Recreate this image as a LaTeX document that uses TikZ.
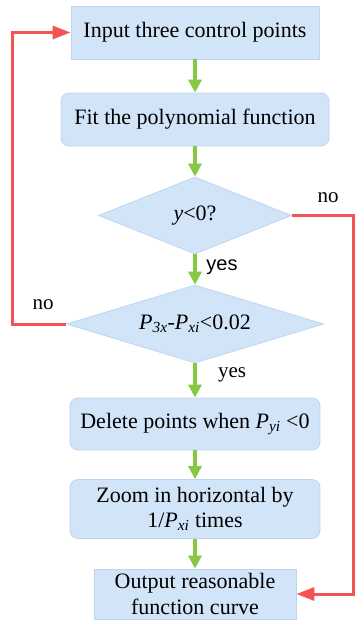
\documentclass[tikz,border=0pt]{standalone}
\usepackage{fontspec}
\setmainfont{Liberation Serif}
\newfontfamily\policesans{Liberation Sans}
\usetikzlibrary{shapes.geometric,arrows.meta}

\definecolor{boitebleue}{HTML}{D2E4F7}
\definecolor{bordbleu}{HTML}{BCD6F0}
\definecolor{vertfleche}{HTML}{86C843}
\definecolor{rougeboucle}{HTML}{F55353}

\tikzset{
  boite/.style={draw=bordbleu, fill=boitebleue, line width=0.8pt, inner sep=0pt,
    align=center, font=\fontsize{22}{25.5}\selectfont},
  boiteronde/.style={boite, rounded corners=8pt},
  losange/.style={boite, diamond, aspect=3.3},
  fleche/.style={vertfleche, line width=3.5pt, -{Triangle[length=13pt,width=13pt]}},
  retour/.style={rougeboucle, line width=3pt, -{Triangle[length=18pt,width=13pt]}},
  etiquette/.style={font=\fontsize{21}{24}\selectfont},
}

\begin{document}
\begin{tikzpicture}[x=1pt, y=-1pt]
  \useasboundingbox (0,0) rectangle (355,621);

  % Étapes
  \node[boite, minimum width=248, minimum height=53] (entree) at (195,32.5)
    {Input three control points};
  \node[boiteronde, minimum width=268, minimum height=53] (ajust) at (195,119.5)
    {Fit the polynomial function};
  \node[losange, minimum width=193, minimum height=77] (test1) at (195,215.5)
    {\textit{y}<0?};
  \node[losange, minimum width=257, minimum height=78] (test2) at (195,324)
    {\textit{P}\textsubscript{\textit{3x}}-\textit{P}\textsubscript{\textit{xi}}<0.02};
  \node[boiteronde, minimum width=250, minimum height=52] (suppr) at (195,424)
    {Delete points when \textit{P}\textsubscript{\textit{yi}} <0};
  \node[boiteronde, minimum width=250, minimum height=59] (zoom) at (195,509)
    {Zoom in horizontal by\\ 1/\textit{P}\textsubscript{\textit{xi}} times};
  \node[boite, minimum width=202, minimum height=50] (sortie) at (195,594)
    {Output reasonable\\ function curve};

  % Flèches vertes
  \draw[fleche] (entree) -- (ajust);
  \draw[fleche] (ajust) -- (test1);
  \draw[fleche] (test1) -- (test2);
  \draw[fleche] (test2) -- (suppr);
  \draw[fleche] (suppr) -- (zoom);
  \draw[fleche] (zoom) -- (sortie);

  % Retours
  \draw[retour] (test1.east) -- ++(62,0) |- (sortie.east);
  \draw[retour] (test2.west) -- ++(-54,0) |- (entree.west);

  % Étiquettes
  \node[etiquette] (non1) at (328,198) {no};
  \node[etiquette] (non2) at (43,305) {no};
  \node[etiquette, font=\policesans\fontsize{20}{23}\selectfont] (oui1) at (222,267) {yes};
  \node[etiquette] (oui2) at (232,375) {yes};

\end{tikzpicture}
\end{document}
